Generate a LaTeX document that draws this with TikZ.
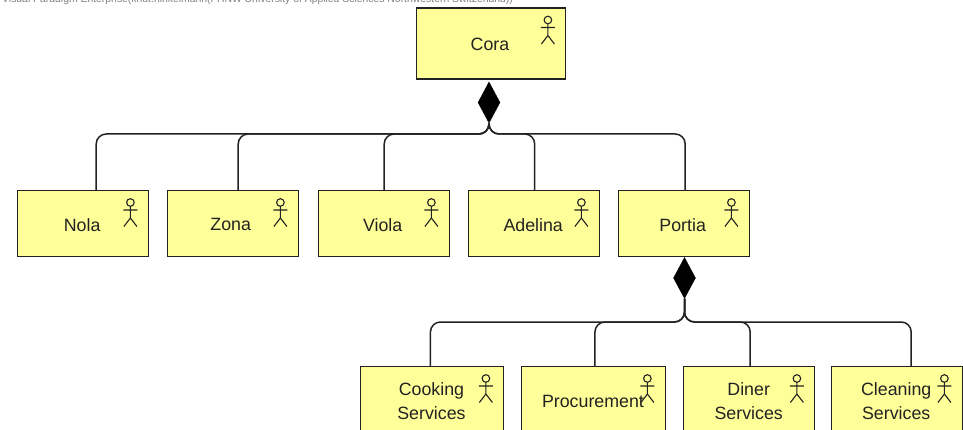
\documentclass[tikz,border=0pt]{standalone}
\usepackage{fontspec}
\setmainfont{Liberation Sans}
\usetikzlibrary{shapes.geometric}
\definecolor{boxfill}{HTML}{FFFF99}
\definecolor{inkdark}{HTML}{222222}
\tikzset{
  actorbox/.style={draw=inkdark,fill=boxfill,line width=1.4pt,rectangle,inner sep=0pt,anchor=north west},
  boxtext/.style={font=\fontsize{17.8}{24}\selectfont,text=inkdark,align=center,inner sep=0pt},
  whole/.style={draw=black,fill=black,shape=diamond,inner sep=0pt,minimum width=22pt,minimum height=41pt,shape aspect=0.54},
  conn/.style={draw=inkdark,line width=1.5pt,rounded corners=10pt},
  stick/.style={draw=inkdark,line width=1.1pt}
}
\newcommand{\actoricon}[1]{%
  \begin{scope}[shift={(#1.north east)}]
    \draw[stick] (-18.5,12.5) circle (3.8);
    \draw[stick] (-18.5,16.3) -- (-18.5,28) (-25.5,20) -- (-11.5,20) (-25,36.5) -- (-18.5,28) -- (-12,36.5);
  \end{scope}}
\newcommand{\abox}[7]{% name, x0, y0, w, h, dx, text
  \node[actorbox,minimum width=#4pt,minimum height=#5pt] (#1) at (#2,#3) {};
  \node[boxtext] (#1text) at ([xshift=#6pt,yshift=-1pt]#1.center) {#7};
  \actoricon{#1}}
\begin{document}
\begin{tikzpicture}[x=1pt,y=-1pt]
\useasboundingbox (0,0) rectangle (963,430);
\clip (0,0) rectangle (963,430);
\node[anchor=west,inner sep=0pt,text=black!50,font=\fontsize{10.4}{11}\selectfont] (hdr) at (2,0) {Visual Paradigm Enterprise(knut.hinkelmann(FHNW University of Applied Sciences Northwestern Switzerland))};
\abox{cora}{415.5}{7.5}{149.5}{71}{-1}{Cora}
\abox{nola}{16.5}{190}{131}{66}{-0.5}{Nola}
\abox{zona}{166.5}{190}{131}{66}{-2}{Zona}
\abox{viola}{317.5}{190}{131}{66}{-1}{Viola}
\abox{adelina}{467.5}{190}{131}{66}{-0.5}{Adelina}
\abox{portia}{617.5}{190}{131}{66}{-1}{Portia}
\abox{cooking}{359.5}{366}{143.5}{67}{-0.5}{Cooking\\Services}
\abox{procure}{521}{366}{143.5}{67}{-0.5}{Procurement}
\abox{diner}{683}{366}{131}{67}{-0.5}{Diner\\Services}
\abox{cleaning}{830.5}{366}{131}{67}{-0.5}{Cleaning\\Services}
\node[whole] (d1) at (489,102.5) {};
\node[whole] (d2) at (684.5,278) {};
\coordinate (h1) at (489,134);
\coordinate (h2) at (684.5,322);
\foreach \n/\dx in {nola/13.5,zona/5.5,viola/0.5,adelina/1,portia/1.5}
  \draw[conn] (d1.south) -- (h1) -| ([xshift=\dx pt]\n.north);
\foreach \n/\dx in {cooking/-1.5,procure/1.5,diner/1,cleaning/14.5}
  \draw[conn] (d2.south) -- (h2) -| ([xshift=\dx pt]\n.north);
\end{tikzpicture}
\end{document}
